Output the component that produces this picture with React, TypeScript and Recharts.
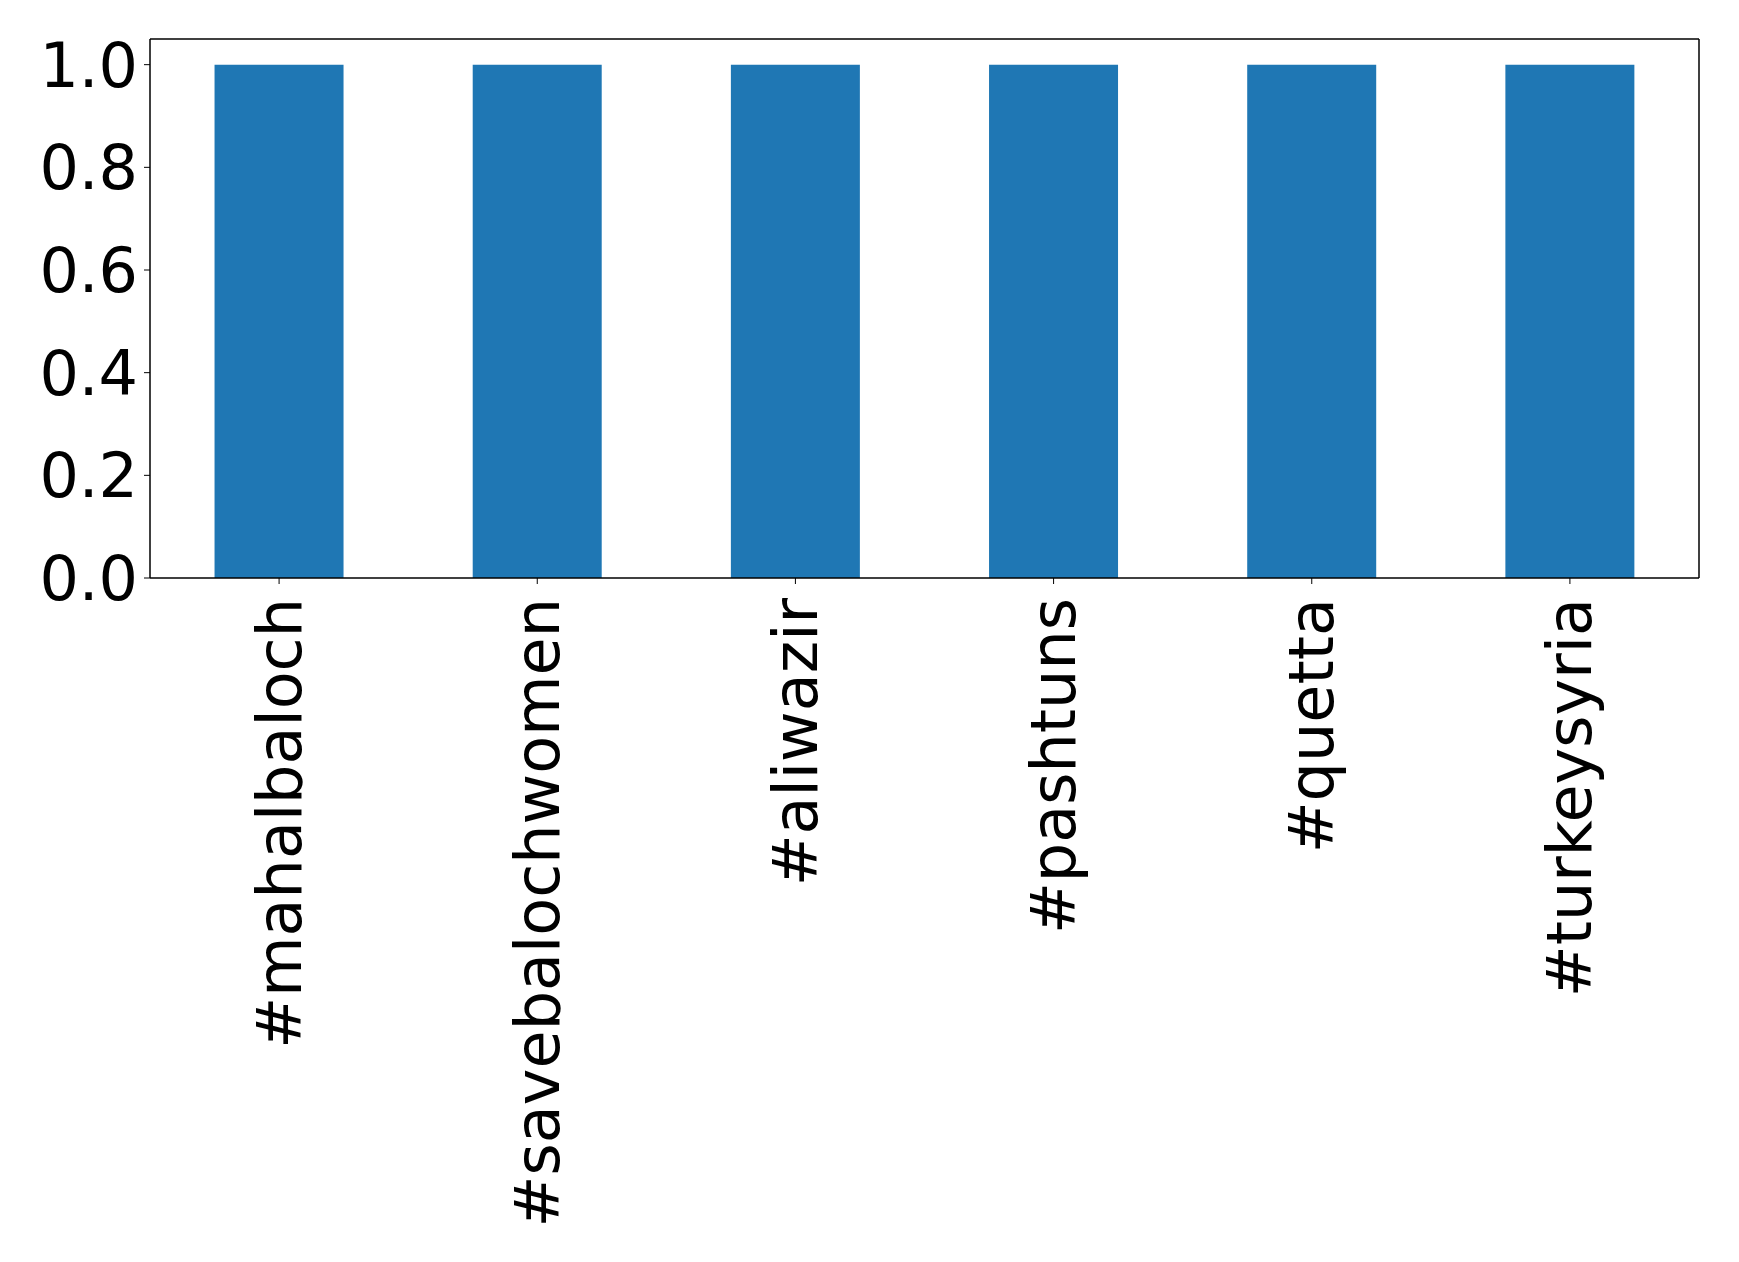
import { Bar, BarChart, CartesianGrid, XAxis, YAxis } from "recharts";

const hashtags = [
  "#mahalbaloch",
  "#savebalochwomen",
  "#aliwazir",
  "#pashtuns",
  "#quetta",
  "#turkeysyria",
];
const counts = [1, 1, 1, 1, 1, 1];
const yTicks = [0, 0.2, 0.4, 0.6, 0.8, 1.0];

const chartData = hashtags.map((tag, i) => ({ tag, count: counts[i] }));

const FONT = "'DejaVu Sans', sans-serif";

function RotatedTick(props: any) {
  const { x, y, payload } = props;
  const ty = y + 12;
  return (
    <text
      x={x}
      y={ty}
      transform={`rotate(-90, ${x}, ${ty})`}
      textAnchor="end"
      dominantBaseline="central"
      fontFamily={FONT}
      fontSize={62}
      fill="#000"
    >
      {payload.value}
    </text>
  );
}

export default function App() {
  return (
    <div style={{ position: "absolute", top: 0, left: 0, background: "#fff" }}>
      <BarChart
        width={1739}
        height={1262}
        data={chartData}
        margin={{ top: 39, right: 40, bottom: 0, left: 0 }}
        barCategoryGap="25%"
      >
        {/* top and right spines of the frame */}
        <CartesianGrid
          stroke="#000"
          strokeWidth={1.5}
          strokeOpacity={1}
          strokeDasharray=""
          horizontalCoordinatesGenerator={({ offset }: any) => [offset.top]}
          verticalCoordinatesGenerator={({ offset }: any) => [
            offset.left + offset.width,
          ]}
        />
        <XAxis
          dataKey="tag"
          height={684}
          interval={0}
          stroke="#000"
          tickSize={6}
          tickLine={{ stroke: "#000" }}
          axisLine={{ stroke: "#000", strokeWidth: 1.5 }}
          tick={<RotatedTick />}
        />
        <YAxis
          width={150}
          domain={[0, 1.05]}
          ticks={yTicks}
          interval={0}
          stroke="#000"
          tickSize={6}
          tickMargin={6}
          tickLine={{ stroke: "#000" }}
          axisLine={{ stroke: "#000", strokeWidth: 1.5 }}
          tickFormatter={(v) => Number(v).toFixed(1)}
          tick={{ fill: "#000", fontSize: 62, fontFamily: FONT }}
        />
        <Bar dataKey="count" fill="#1f77b4" isAnimationActive={false} />
      </BarChart>
    </div>
  );
}
